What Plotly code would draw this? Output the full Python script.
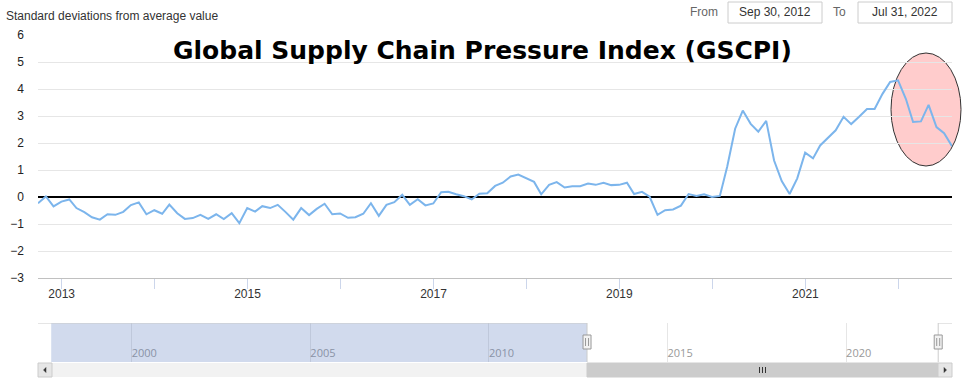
import plotly.graph_objects as go
import pandas as pd

# ---------------- data ----------------
start_month = "2012-09-30"
n_months = 119
dates = pd.date_range(start_month, periods=n_months, freq="ME").strftime("%Y-%m-%d").tolist()

gscpi = [
    # 2012 Sep-Dec
    -0.23, 0.02, -0.35, -0.17,
    # 2013
    -0.09, -0.41, -0.56, -0.75, -0.84, -0.64, -0.66, -0.55, -0.30, -0.20, -0.64, -0.49,
    # 2014
    -0.62, -0.28, -0.60, -0.81, -0.78, -0.66, -0.81, -0.64, -0.82, -0.60, -0.97, -0.41,
    # 2015
    -0.54, -0.34, -0.41, -0.29, -0.56, -0.84, -0.41, -0.67, -0.44, -0.25, -0.64, -0.61,
    # 2016
    -0.77, -0.75, -0.62, -0.23, -0.70, -0.29, -0.19, 0.08, -0.29, -0.08, -0.31, -0.24,
    # 2017
    0.18, 0.19, 0.10, 0.03, -0.09, 0.12, 0.14, 0.41, 0.53, 0.76, 0.83, 0.69,
    # 2018
    0.56, 0.10, 0.45, 0.55, 0.35, 0.40, 0.40, 0.50, 0.45, 0.53, 0.44, 0.45,
    # 2019
    0.53, 0.11, 0.19, 0.01, -0.66, -0.49, -0.46, -0.32, 0.11, 0.04, 0.10, 0.00,
    # 2020
    0.04, 1.13, 2.53, 3.20, 2.71, 2.42, 2.82, 1.35, 0.59, 0.11, 0.69, 1.64,
    # 2021
    1.43, 1.91, 2.19, 2.47, 2.97, 2.70, 2.97, 3.26, 3.26, 3.82, 4.26, 4.32,
    # 2022 Jan-Jul
    3.63, 2.78, 2.80, 3.41, 2.59, 2.36, 1.88,
]

range_from = "2012-09-30"
range_to = "2022-07-31"
range_from_label = "Sep 30, 2012"
range_to_label = "Jul 31, 2022"

x_tick_years = list(range(2013, 2023))
x_tick_vals = [f"{y}-01-01" for y in x_tick_years]
x_tick_text = [str(y) if y % 2 == 1 else "" for y in x_tick_years]

y_ticks = [-3, -2, -1, 0, 1, 2, 3, 4, 5, 6]

nav_range = ["1997-05-18", "2022-12-19"]
nav_data_start = "1997-09-30"
nav_tick_years = ["2000-01-01", "2005-01-01", "2010-01-01", "2015-01-01", "2020-01-01"]

title_text = "Global Supply Chain Pressure Index (GSCPI)"
y_title = "Standard deviations from average value"

# ---------------- layout helpers (pixel -> paper) ----------------
W, H = 964, 390
L, R, T, B = 38, 12, 35, 28
PW, PH = W - L - R, H - T - B


def px(x):
    return (x - L) / PW


def py(y):
    return (H - B - y) / PH


LINE_COLOR = "#7cb5ec"
FONT = "Liberation Sans, Arial, sans-serif"

fig = go.Figure()
fig.add_trace(go.Scatter(
    x=dates, y=gscpi, mode="lines",
    line=dict(color=LINE_COLOR, width=2),
    hoverinfo="x+y", showlegend=False,
))
# empty trace to instantiate the navigator subplot
fig.add_trace(go.Scatter(x=[], y=[], xaxis="x2", yaxis="y2", showlegend=False, hoverinfo="skip"))

shapes = []

# highlight ellipse (between grid and line)
shapes.append(dict(
    type="circle", xref="paper", yref="paper",
    x0=px(891), x1=px(961), y0=py(166), y1=py(53),
    fillcolor="#ffcccc", line=dict(color="#333333", width=1), layer="between",
))

# date input boxes
for x0, x1 in [(728, 822), (858, 952)]:
    shapes.append(dict(type="rect", xref="paper", yref="paper",
                       x0=px(x0), x1=px(x1), y0=py(23), y1=py(2),
                       fillcolor="white", line=dict(color="#cccccc", width=1)))

# navigator mask (left, outside selected range)
shapes.append(dict(type="rect", xref="x2", yref="y2",
                   x0=nav_data_start, x1=range_from, y0=0, y1=1,
                   fillcolor="rgba(102,133,194,0.3)", line=dict(width=0), layer="above"))
# navigator outline
shapes.append(dict(type="line", xref="x2", yref="y2", x0=nav_range[0], x1=range_from,
                   y0=1, y1=1, line=dict(color="#cccccc", width=1)))
shapes.append(dict(type="line", xref="x2", yref="y2", x0=range_to, x1=nav_range[1],
                   y0=1, y1=1, line=dict(color="#cccccc", width=1)))
for xd in (range_from, range_to):
    shapes.append(dict(type="line", xref="x2", yref="y2", x0=xd, x1=xd,
                       y0=0, y1=1, line=dict(color="#cccccc", width=1)))
# navigator handles
for xd in (range_from, range_to):
    shapes.append(dict(type="rect", xref="x2", yref="paper", xsizemode="pixel", xanchor=xd,
                       x0=-4, x1=4, y0=py(349), y1=py(335),
                       fillcolor="#f2f2f2", line=dict(color="#999999", width=1)))
    for dx in (-1.5, 1.5):
        shapes.append(dict(type="line", xref="x2", yref="paper", xsizemode="pixel", xanchor=xd,
                           x0=dx, x1=dx, y0=py(346), y1=py(338),
                           line=dict(color="#999999", width=1)))

# scrollbar
shapes.append(dict(type="rect", xref="paper", yref="paper", x0=0, x1=1, y0=py(377), y1=py(363),
                   fillcolor="#f2f2f2", line=dict(width=0)))
shapes.append(dict(type="rect", xref="x2", yref="paper", x0=range_from, x1=range_to,
                   y0=py(377), y1=py(363), fillcolor="#cccccc", line=dict(color="#cccccc", width=1)))
for x0, x1 in [(38, 52), (938, 952)]:
    shapes.append(dict(type="rect", xref="paper", yref="paper", x0=px(x0), x1=px(x1),
                       y0=py(377), y1=py(363), fillcolor="#e6e6e6", line=dict(color="#cccccc", width=1)))
# arrows
shapes.append(dict(type="path", xref="paper", yref="paper",
                   path=f"M {px(46)} {py(367.5)} L {px(43.5)} {py(370)} L {px(46)} {py(372.5)} Z",
                   fillcolor="#333333", line=dict(color="#333333", width=0.5)))
shapes.append(dict(type="path", xref="paper", yref="paper",
                   path=f"M {px(944)} {py(367.5)} L {px(946.5)} {py(370)} L {px(944)} {py(372.5)} Z",
                   fillcolor="#333333", line=dict(color="#333333", width=0.5)))
# grip on the thumb
for dx in (-3, 0, 3):
    shapes.append(dict(type="line", xref="paper", yref="paper",
                       x0=px(762.5 + dx), x1=px(762.5 + dx), y0=py(373), y1=py(367),
                       line=dict(color="#333333", width=1)))

annotations = [
    dict(text=f"<b>{title_text}</b>", xref="paper", yref="paper", x=px(482), y=py(51),
         xanchor="center", yanchor="middle", showarrow=False,
         font=dict(family="DejaVu Sans, Verdana, sans-serif", size=25, color="#000000")),
    dict(text=y_title, xref="paper", yref="paper", x=px(4), y=py(16.5),
         xanchor="left", yanchor="middle", showarrow=False,
         font=dict(family=FONT, size=12, color="#333333")),
    dict(text="From", xref="paper", yref="paper", x=px(720), y=py(12),
         xanchor="right", yanchor="middle", showarrow=False,
         font=dict(family=FONT, size=12, color="#666666")),
    dict(text="To", xref="paper", yref="paper", x=px(848), y=py(12),
         xanchor="right", yanchor="middle", showarrow=False,
         font=dict(family=FONT, size=12, color="#666666")),
    dict(text=range_from_label, xref="paper", yref="paper", x=px(775), y=py(12),
         xanchor="center", yanchor="middle", showarrow=False,
         font=dict(family=FONT, size=12, color="#333333")),
    dict(text=range_to_label, xref="paper", yref="paper", x=px(905), y=py(12),
         xanchor="center", yanchor="middle", showarrow=False,
         font=dict(family=FONT, size=12, color="#333333")),
]

fig.update_layout(
    width=W, height=H,
    margin=dict(l=L, r=R, t=T, b=B, pad=0, autoexpand=False),
    paper_bgcolor="white", plot_bgcolor="white",
    font=dict(family=FONT, size=12, color="#333333"),
    showlegend=False,
    shapes=shapes,
    annotations=annotations,
    xaxis=dict(
        type="date", range=[range_from, range_to], domain=[0, 1], anchor="y", automargin=False,
        tickmode="array", tickvals=x_tick_vals, ticktext=x_tick_text,
        ticks="outside", ticklen=10, tickcolor="#ccd6eb", tickwidth=1,
        showgrid=False, showline=True, linecolor="#c0c0c0", linewidth=1,
        zeroline=False, tickfont=dict(family=FONT, size=12, color="#333333"),
        ticklabelstandoff=-5,
    ),
    yaxis=dict(
        range=[-3, 6], domain=[py(278), 1], anchor="x", automargin=False,
        tickmode="array", tickvals=y_ticks,
        showgrid=True, gridcolor="#e6e6e6", gridwidth=1,
        zeroline=True, zerolinecolor="#000000", zerolinewidth=1.5,
        showline=False, ticks="", ticklabelstandoff=13,
        tickfont=dict(family=FONT, size=12, color="#222222"),
    ),
    xaxis2=dict(
        type="date", range=nav_range, domain=[0, 1], anchor="y2", automargin=False,
        tickmode="array", tickvals=nav_tick_years, tickformat="%Y",
        ticklabelposition="inside right", ticks="", ticklabelstandoff=-3,
        showgrid=True, gridcolor="#e6e6e6", gridwidth=1,
        showline=False, zeroline=False,
        tickfont=dict(family="Open Sans, DejaVu Sans, sans-serif", size=11, color="#999999"),
    ),
    yaxis2=dict(
        range=[0, 1], domain=[0, py(323)], anchor="x2", automargin=False,
        showgrid=False, showticklabels=False, zeroline=False, showline=False, ticks="",
    ),
)

fig.write_html("out.html", config={"displayModeBar": False})

# remove the default page margin so the figure sits at the window's top-left corner
with open("out.html", "r", encoding="utf-8") as f:
    html = f.read()
html = html.replace("<head>", "<head><style>html,body{margin:0;padding:0;overflow:hidden;}</style>", 1)
with open("out.html", "w", encoding="utf-8") as f:
    f.write(html)
